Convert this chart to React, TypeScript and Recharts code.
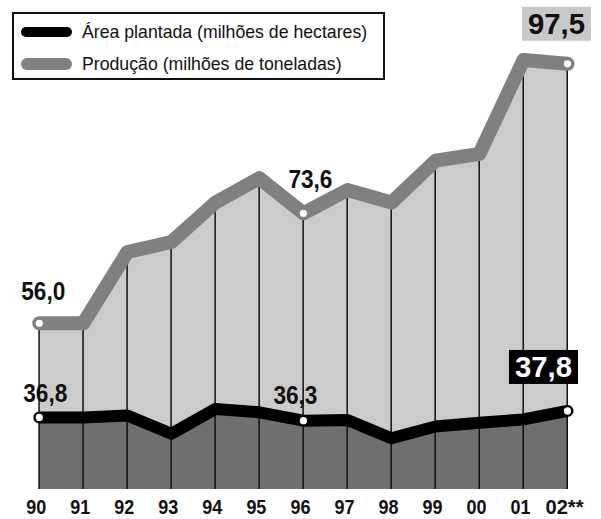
import {
  Area,
  Bar,
  ComposedChart,
  Line,
  XAxis,
  YAxis,
} from 'recharts'

const anos = ['90', '91', '92', '93', '94', '95', '96', '97', '98', '99', '00', '01', '02**']
// produção (milhões de toneladas)
const producao = [56.0, 56.0, 67.4, 69.0, 75.3, 79.2, 73.6, 77.3, 75.3, 82.0, 83.1, 98.1, 97.5]
// área plantada (milhões de hectares)
const areaPlantada = [36.8, 36.8, 37.1, 34.3, 38.1, 37.6, 36.3, 36.4, 33.6, 35.4, 36.0, 36.5, 37.8]
// anos com valor em destaque
const destaques = [0, 6, 12]

const DOMINIO_PRODUCAO: [number, number] = [29.5, 107.7]
const DOMINIO_AREA: [number, number] = [25.8, 101.0]

const W = 601
const H = 519

const FONTE = "'Liberation Sans', Arial, sans-serif"

const data = anos.map((ano, i) => ({
  ano,
  producao: producao[i],
  area: areaPlantada[i],
}))

const fmt = (v: number) => v.toFixed(1).replace('.', ',')

type DotProps = { cx?: number; cy?: number; index?: number; value?: number | number[] }
type Rotulo = { dx: number; dy: number; caixa?: string }

// posição dos rótulos em relação ao ponto: dx do centro, dy da linha de base
const rotulosProducao: Record<number, Rotulo> = {
  0: { dx: 4, dy: -23 },
  6: { dx: 7, dy: -25 },
  12: { dx: -11, dy: -30, caixa: '#c8c8c8' },
}
const rotulosArea: Record<number, Rotulo> = {
  0: { dx: 6, dy: -15 },
  6: { dx: -8, dy: -17 },
  12: { dx: -24, dy: -34, caixa: '#000' },
}

function makeDot(rotulos: Record<number, Rotulo>) {
  return function Dot(props: DotProps) {
    const { cx = 0, cy = 0, index = 0 } = props
    const v = Array.isArray(props.value) ? props.value[1] : props.value
    if (!destaques.includes(index)) return <g key={`d${index}`} />
    const r = rotulos[index]
    const tx = cx + r.dx
    const ty = cy + r.dy
    return (
      <g key={`d${index}`}>
        <circle cx={cx} cy={cy} r={3.6} fill="#fff" />
        {r.caixa && (
          <rect x={tx - 34.5} y={ty - 27} width={69} height={34} fill={r.caixa} />
        )}
        <text
          x={tx}
          y={ty}
          textAnchor="middle"
          fontFamily={FONTE}
          fontWeight={700}
          fontSize={r.caixa ? 29 : 25}
          textLength={r.caixa ? 57 : 44}
          lengthAdjust="spacingAndGlyphs"
          fill={r.caixa === '#000' ? '#fff' : '#111'}
        >
          {fmt(Number(v))}
        </text>
      </g>
    )
  }
}

function AnoTick({ x = 0, y = 0, payload }: { x?: number; y?: number; payload?: { value: string } }) {
  const txt = payload?.value ?? ''
  return (
    <text
      x={x - 3}
      y={y + 23}
      textAnchor="middle"
      fontFamily={FONTE}
      fontWeight={700}
      fontSize={20}
      textLength={txt.length > 2 ? 38 : 20}
      lengthAdjust="spacingAndGlyphs"
      fill="#111"
    >
      {txt}
    </text>
  )
}

function Legenda() {
  const linha = { display: 'flex', alignItems: 'center', height: 32 }
  const pill = (cor: string, h: number) => ({
    width: 51,
    height: h,
    borderRadius: h / 2,
    background: cor,
    marginRight: 10,
  })
  return (
    <div
      style={{
        position: 'absolute',
        left: 12,
        top: 12,
        width: 373,
        height: 68,
        border: '2px solid #111',
        background: '#fff',
        padding: '2px 0 0 7px',
        boxSizing: 'border-box',
        fontFamily: FONTE,
        fontSize: 17.7,
        color: '#111',
      }}
    >
      <div style={linha}>
        <div style={pill('#000', 10)} />
        <span>Área plantada (milhões de hectares)</span>
      </div>
      <div style={linha}>
        <div style={pill('#808080', 12)} />
        <span>Produção (milhões de toneladas)</span>
      </div>
    </div>
  )
}

export default function App() {
  return (
    <div style={{ position: 'absolute', left: 0, top: 0, width: W, height: H, background: '#fff' }}>
      <ComposedChart
        width={W}
        height={H}
        data={data}
        margin={{ top: 0, right: 11.5, left: 17.3, bottom: 0 }}
        barCategoryGap={0}
      >
        <XAxis
          dataKey="ano"
          axisLine={false}
          tickLine={false}
          tickSize={0}
          height={30}
          interval={0}
          tick={<AnoTick />}
        />
        <YAxis yAxisId="prod" hide domain={DOMINIO_PRODUCAO} allowDataOverflow />
        <YAxis yAxisId="area" hide domain={DOMINIO_AREA} allowDataOverflow />
        <Area
          yAxisId="prod"
          dataKey="producao"
          type="linear"
          stroke="none"
          fill="#cbcbcb"
          fillOpacity={1}
          isAnimationActive={false}
        />
        <Area
          yAxisId="area"
          dataKey="area"
          type="linear"
          stroke="none"
          fill="#6f6f6f"
          fillOpacity={1}
          isAnimationActive={false}
        />
        <Bar yAxisId="prod" dataKey="producao" barSize={1.5} fill="#111" isAnimationActive={false} />
        <Line
          yAxisId="prod"
          dataKey="producao"
          type="linear"
          stroke="#808080"
          strokeWidth={14}
          strokeLinecap="round"
          strokeLinejoin="round"
          dot={makeDot(rotulosProducao)}
          activeDot={false}
          isAnimationActive={false}
        />
        <Line
          yAxisId="area"
          dataKey="area"
          type="linear"
          stroke="#000"
          strokeWidth={12}
          strokeLinecap="round"
          strokeLinejoin="round"
          dot={makeDot(rotulosArea)}
          activeDot={false}
          isAnimationActive={false}
        />
      </ComposedChart>
      <Legenda />
    </div>
  )
}
